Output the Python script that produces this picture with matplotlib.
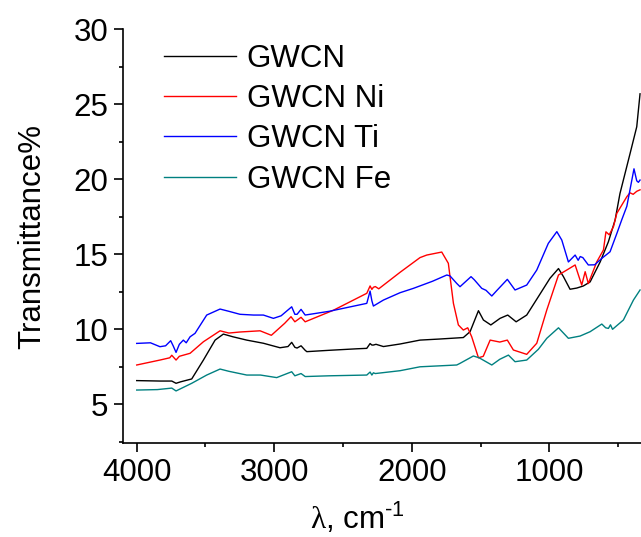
import matplotlib
matplotlib.use("Agg")
from matplotlib import pyplot as plt
from matplotlib.ticker import MultipleLocator

plt.rcParams['font.family'] = ['Liberation Sans', 'DejaVu Sans']
plt.rcParams['mathtext.fontset'] = 'custom'
plt.rcParams['mathtext.rm'] = 'Liberation Serif'
plt.rcParams['mathtext.default'] = 'regular'

# FTIR spectra, wavenumber (cm-1) vs transmittance (%)
wn_gwcn = [4000, 3830, 3745, 3714, 3680, 3600, 3515, 3430, 3370, 3300, 3200, 3079,
           2958, 2900, 2873, 2850, 2834, 2805, 2775, 2763, 2600, 2400, 2327, 2303,
           2290, 2279, 2260, 2206, 2085, 1940, 1800, 1625, 1576, 1515, 1479, 1425,
           1358, 1302, 1241, 1164, 1079, 995, 933, 897, 849, 800, 752, 703, 630,
           570, 521, 486, 413, 364, 340]
t_gwcn = [6.58, 6.55, 6.55, 6.4, 6.5, 6.69, 7.95, 9.28, 9.68, 9.5, 9.28, 9.07,
          8.77, 8.85, 9.13, 8.8, 8.75, 8.9, 8.6, 8.51, 8.6, 8.7, 8.73, 9.05,
          8.95, 8.95, 9.0, 8.85, 9.02, 9.28, 9.35, 9.45, 9.84, 11.24, 10.62, 10.29,
          10.73, 10.95, 10.5, 10.95, 12.18, 13.4, 14.05, 13.51, 12.67, 12.75, 12.89, 13.16, 14.49,
          15.84, 17.3, 19.05, 21.7, 23.5, 25.7]

wn_ni = [4000, 3831, 3760, 3745, 3714, 3690, 3612, 3515, 3394, 3330, 3249, 3103,
         3021, 2924, 2878, 2850, 2805, 2775, 2570, 2327, 2303, 2290, 2279, 2265,
         2240, 2085, 1940, 1891, 1782, 1734, 1697, 1661, 1625, 1593, 1564, 1515,
         1480, 1430, 1360, 1305, 1261, 1164, 1091, 1018, 933, 873, 812, 764, 739,
         716, 655, 606, 588, 564, 533, 509, 436, 413, 390, 364, 340]
t_ni = [7.62, 7.95, 8.1, 8.27, 7.95, 8.2, 8.4, 9.17, 9.9, 9.75, 9.82, 9.9,
        9.6, 10.4, 10.84, 10.5, 10.8, 10.5, 11.27, 12.4, 12.89, 12.66, 12.8, 12.85,
        12.7, 13.8, 14.78, 14.95, 15.15, 14.4, 11.73, 10.29, 9.95, 10.1, 9.5, 8.1,
        8.2, 9.28, 9.15, 9.28, 8.62, 8.33, 9.07, 11.29, 13.62, 13.95, 14.29, 12.95, 13.84,
        13.05, 14.49, 15.29, 16.5, 16.3, 16.85, 17.73, 18.84, 19.1, 19.0, 19.2, 19.3]

wn_ti = [4000, 3900, 3831, 3790, 3753, 3735, 3714, 3690, 3661, 3640, 3612, 3576,
         3491, 3394, 3330, 3249, 3150, 3079, 3006, 2950, 2873, 2850, 2834, 2805,
         2775, 2600, 2327, 2303, 2290, 2279, 2206, 2085, 1988, 1850, 1745, 1722,
         1673, 1649, 1630, 1569, 1545, 1491, 1460, 1418, 1380, 1305, 1249, 1164,
         1091, 1007, 945, 909, 861, 812, 790, 775, 756, 716, 670, 618, 558, 509,
         473, 436, 384, 364, 352, 340]
t_ti = [9.06, 9.1, 8.84, 8.9, 9.24, 8.9, 8.46, 9.0, 9.28, 9.1, 9.5, 9.73,
        10.95, 11.35, 11.2, 11.0, 10.95, 10.95, 10.73, 10.9, 11.5, 11.0, 11.0, 11.33,
        10.95, 11.2, 11.73, 12.55, 11.9, 11.55, 11.95, 12.44, 12.73, 13.2, 13.62, 13.56,
        13.06, 12.84, 13.0, 13.51, 13.3, 12.73, 12.6, 12.22, 12.6, 13.33, 12.62, 12.95,
        13.95, 15.73, 16.51, 15.95, 14.49, 14.95, 14.6, 14.85, 14.78, 14.29, 14.3, 14.73, 15.17, 16.38,
        17.3, 18.2, 20.7, 19.9, 19.8, 19.95]

wn_fe = [4000, 3850, 3745, 3714, 3600, 3491, 3394, 3330, 3200, 3100, 2982, 2873,
         2850, 2805, 2775, 2600, 2327, 2303, 2290, 2279, 2265, 2085, 1940, 1673,
         1649, 1552, 1510, 1418, 1360, 1297, 1249, 1164, 1079, 1018, 933, 861,
         776, 703, 618, 590, 570, 555, 540, 461, 388, 340]
t_fe = [5.95, 5.98, 6.08, 5.89, 6.4, 6.95, 7.35, 7.2, 6.95, 6.95, 6.78, 7.17,
        6.9, 7.05, 6.85, 6.9, 6.95, 7.15, 6.95, 7.1, 7.05, 7.24, 7.5, 7.62,
        7.73, 8.22, 8.1, 7.62, 8.0, 8.28, 7.84, 7.95, 8.67, 9.4, 10.1, 9.4,
        9.55, 9.84, 10.35, 10.1, 10.06, 10.3, 10.0, 10.62, 11.95, 12.62]

fs = 22.5

fig = plt.figure(figsize=(6.41, 5.37), dpi=100)
ax = fig.add_axes([0.1914, 0.1745, 0.8086, 0.7709])

ax.plot(wn_gwcn, t_gwcn, color='black', lw=1.0, label='GWCN')
ax.plot(wn_ni, t_ni, color='#ff0000', lw=1.0, label='GWCN Ni')
ax.plot(wn_ti, t_ti, color='#0000ff', lw=1.0, label='GWCN Ti')
ax.plot(wn_fe, t_fe, color='#008080', lw=1.0, label='GWCN Fe')

ax.set_xlim(4102, 333)
ax.set_ylim(2.4, 30)
ax.xaxis.set_major_locator(MultipleLocator(1000))
ax.xaxis.set_minor_locator(MultipleLocator(500))
ax.yaxis.set_major_locator(MultipleLocator(5))
ax.yaxis.set_minor_locator(MultipleLocator(2.5))

for side in ['top', 'right']:
    ax.spines[side].set_visible(False)
for side in ['left', 'bottom']:
    ax.spines[side].set_linewidth(1.2)

ax.tick_params(which='major', direction='out', length=6.5, width=1.2, labelsize=fs, pad=4)
ax.tick_params(which='minor', direction='out', length=3.2, width=1.2)

ax.set_ylabel('Transmittance%', fontsize=fs)
ax.set_xlabel('$\\mathrm{\\lambda}$, cm$^{\u20101}$', fontsize=fs)
ax.yaxis.set_label_coords(-0.146, 0.5)
ax.xaxis.set_label_coords(0.452, -0.139)

ax.legend(loc='upper left', bbox_to_anchor=(0.0797, 0.965), frameon=False,
          fontsize=fs, handlelength=2.3, handletextpad=0.35,
          labelspacing=0.33, borderpad=0, borderaxespad=0)

fig.savefig('out.png', dpi=100)
